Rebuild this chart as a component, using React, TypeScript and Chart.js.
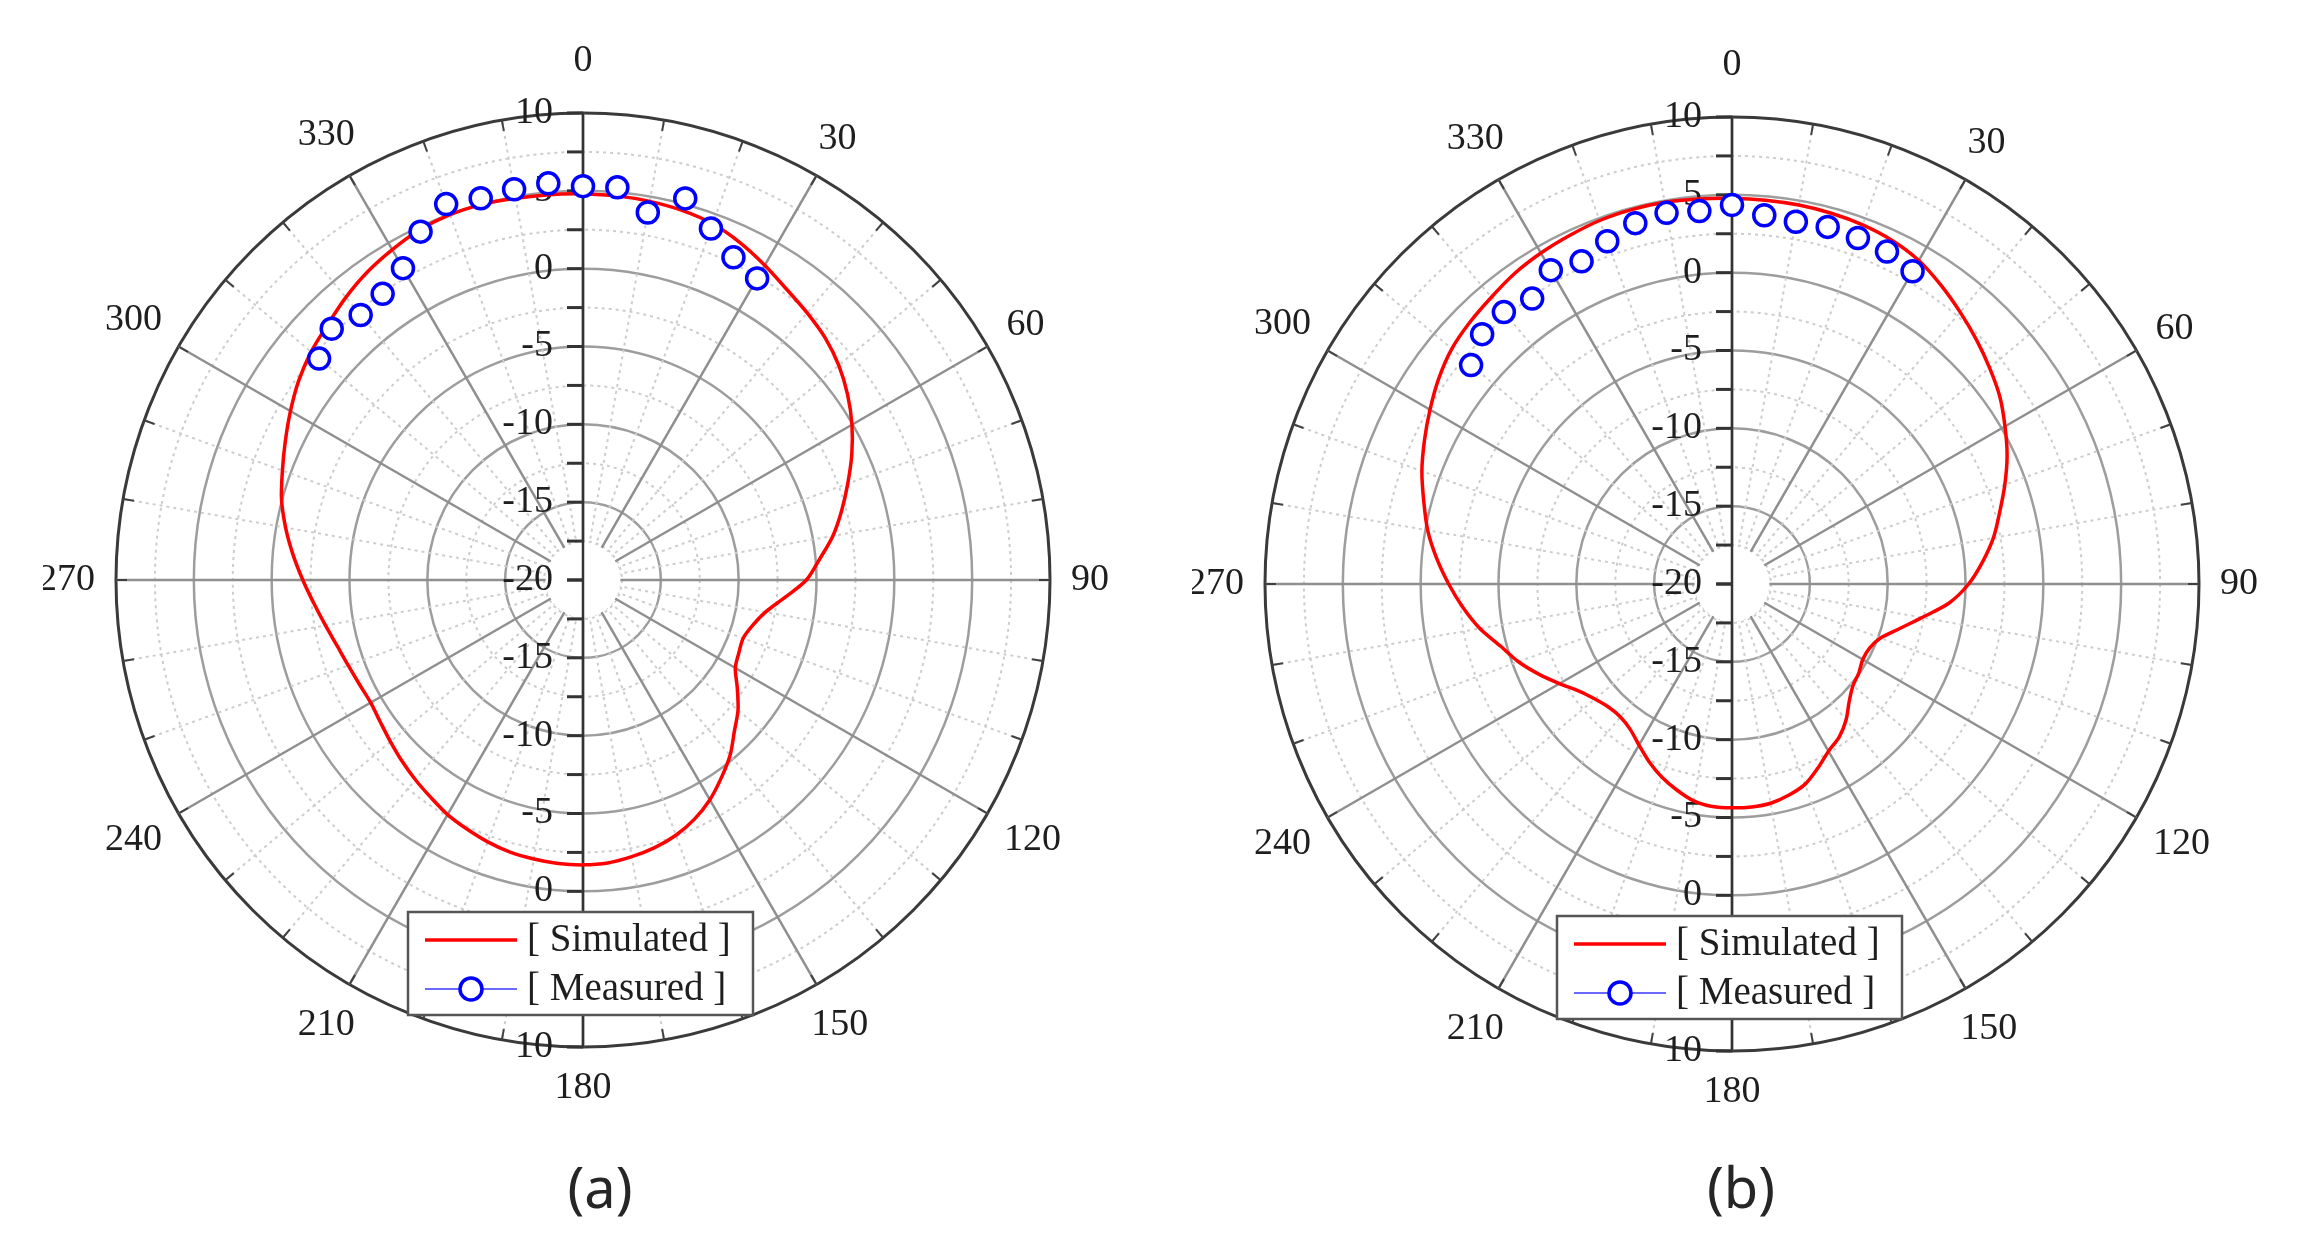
import React, { useEffect, useRef } from 'react';
import { Chart, registerables } from 'chart.js';

Chart.register(...registerables);

// Angular categories (degrees, clockwise from top)
const angles = [
  0, 5, 10, 15, 20, 25, 30, 35, 40, 45, 50, 55, 60, 65, 70, 75, 80, 85,
  90, 95, 100, 105, 110, 115, 120, 125, 130, 135, 140, 145, 150, 155, 160, 165, 170, 175,
  180, 185, 190, 195, 200, 205, 210, 215, 220, 225, 230, 235, 240, 245, 250, 255, 260, 265,
  270, 275, 280, 285, 290, 295, 300, 305, 310, 315, 320, 325, 330, 335, 340, 345, 350, 355,
];

// Radial tick labels (dB)
const radialTickLabels = [10, 5, 0, -5, -10, -15, -20];

// (a) simulated gain, one value per angle above
const simulatedA = [
  4.8, 4.77, 4.7, 4.58, 4.35, 3.9, 3.35, 2.8, 2.4, 2.0, 1.45, 0.75, -0.05, -0.95, -1.9, -2.8, -3.7, -4.75,
  -5.65, -7.0, -8.1, -8.72, -9.05, -8.95, -8.7, -7.9, -7.0, -6.25, -5.3, -4.5, -3.7, -3.05, -2.55, -2.2, -1.95, -1.75,
  -1.7, -1.72, -1.8, -1.9, -2.1, -2.35, -2.6, -2.95, -3.25, -3.55, -3.85, -4.1, -4.25, -4.15, -3.95, -3.65, -3.2, -2.65,
  -2.0, -1.3, -0.6, 0.05, 0.55, 1.1, 1.7, 2.3, 2.8, 3.2, 3.7, 4.15, 4.5, 4.82, 4.97, 4.98, 4.9, 4.85,
];

// (b) simulated gain
const simulatedB = [
  4.78, 4.75, 4.72, 4.66, 4.55, 4.35, 4.0, 3.42, 2.8, 2.2, 1.6, 1.0, 0.25, -0.5, -1.35, -2.2, -2.95, -3.85,
  -4.8, -6.0, -7.6, -8.88, -9.85, -10.25, -10.3, -10.05, -9.85, -9.35, -8.6, -8.0, -7.6, -6.95, -6.3, -5.95, -5.7, -5.62,
  -5.62, -5.65, -5.85, -6.3, -6.8, -7.4, -8.05, -8.6, -8.85, -8.8, -8.5, -8.0, -7.2, -6.3, -5.4, -4.6, -3.55, -2.65,
  -1.8, -0.95, -0.15, 0.5, 1.2, 1.8, 2.4, 3.0, 3.5, 3.8, 4.05, 4.35, 4.55, 4.7, 4.85, 4.9, 4.9, 4.83,
];

// Measured angles (deg) and values
const measuredAngles = [310, 315, 320, 325, 330, 335, 340, 345, 350, 355, 0, 5, 10, 15, 20, 25, 30];
const measuredA = [2.13, 2.83, 2.22, 2.44, 3.13, 4.69, 5.7, 5.39, 5.49, 5.58, 5.3, 5.32, 3.97, 5.38, 4.03, 2.87, 2.37];
const measuredB = [1.88, 2.7, 2.8, 2.38, 3.28, 2.87, 3.43, 4.0, 4.21, 4.05, 4.35, 3.78, 3.63, 3.75, 3.65, 3.56, 3.2];

const seriesNames = ['[ Simulated ]', '[ Measured ]'];
const captions = ['(a)', '(b)'];

const SERIF = '"Liberation Serif", "Times New Roman", Times, serif';
const TEXT = '#1e1e1e';

function alignMeasured(values: number[]): (number | null)[] {
  return angles.map((a) => {
    const k = measuredAngles.indexOf(a);
    return k >= 0 ? values[k] : null;
  });
}

const isMajor = (v: number) => Math.abs(v % 5) < 1e-6;

const decorPlugin = {
  id: 'polarDecor',
  beforeDatasetsDraw(chart: any) {
    const r = chart.scales.r;
    const ctx: CanvasRenderingContext2D = chart.ctx;
    const cx = r.xCenter;
    const cy = r.yCenter;
    const labels = chart.data.labels;
    const n = labels.length;
    const half = n / 2;
    const R = r.getDistanceFromCenterForValue(r.max);
    ctx.save();
    // blank hub in the middle
    ctx.fillStyle = '#ffffff';
    ctx.beginPath();
    ctx.arc(cx, cy, r.getDistanceFromCenterForValue(-17.5) - 1.5, 0, Math.PI * 2);
    ctx.fill();
    // small ticks on outer ring
    ctx.strokeStyle = '#404040';
    ctx.lineWidth = 2;
    ctx.setLineDash([]);
    for (let i = 0; i < n; i += 2) {
      const a = r.getIndexAngle(i) - Math.PI / 2;
      ctx.beginPath();
      ctx.moveTo(cx + Math.cos(a) * R, cy + Math.sin(a) * R);
      ctx.lineTo(cx + Math.cos(a) * (R - 11), cy + Math.sin(a) * (R - 11));
      ctx.stroke();
    }
    // angle labels every 30 degrees, centred outside the ring
    ctx.fillStyle = TEXT;
    ctx.font = `38px ${SERIF}`;
    ctx.textAlign = 'center';
    ctx.textBaseline = 'middle';
    for (let i = 0; i < n; i += 6) {
      const txt = String(labels[i]);
      const a = r.getIndexAngle(i);
      const sx = Math.sin(a);
      const sy = -Math.cos(a);
      const hw = ctx.measureText(txt).width / 2;
      const hh = 13;
      const gap = i === 0 ? 39 : i === half ? 28 : 21;
      const d = R + gap + Math.abs(sx) * hw + Math.abs(sy) * hh;
      ctx.fillText(txt, cx + sx * d, cy + sy * d);
    }
    // vertical axis 0-180
    const top = r.getPointPositionForValue(0, r.max);
    const bot = r.getPointPositionForValue(half, r.max);
    ctx.strokeStyle = '#333333';
    ctx.lineWidth = 2.5;
    ctx.beginPath();
    ctx.moveTo(top.x, top.y);
    ctx.lineTo(bot.x, bot.y);
    ctx.stroke();
    // tick marks
    ctx.lineWidth = 3;
    r.ticks.forEach((t: any) => {
      [0, half].forEach((idx) => {
        const p = r.getPointPositionForValue(idx, t.value);
        ctx.beginPath();
        ctx.moveTo(p.x - 16, p.y);
        ctx.lineTo(p.x, p.y);
        ctx.stroke();
      });
    });
    // tick labels
    ctx.textAlign = 'right';
    radialTickLabels.forEach((v) => {
      const p = r.getPointPositionForValue(0, v);
      ctx.fillText(String(v), p.x - 30, p.y);
      if (v !== r.min) {
        const q = r.getPointPositionForValue(half, v);
        ctx.fillText(String(v), q.x - 30, q.y);
      }
    });
    ctx.restore();
  },
  afterDraw(chart: any) {
    const r = chart.scales.r;
    const ctx: CanvasRenderingContext2D = chart.ctx;
    const cx = r.xCenter;
    const cy = r.yCenter;
    const ds = chart.data.datasets;
    const sim = ds.find((d: any) => d.label === seriesNames[0]);
    const meas = ds.find((d: any) => d.label === seriesNames[1]);
    const x0 = cx - 175;
    const y0 = cy + 332;
    const w = 345;
    const h = 103;
    ctx.save();
    ctx.setLineDash([]);
    ctx.fillStyle = '#ffffff';
    ctx.fillRect(x0, y0, w, h);
    ctx.strokeStyle = '#555555';
    ctx.lineWidth = 2.5;
    ctx.strokeRect(x0, y0, w, h);
    // row 1
    ctx.strokeStyle = sim.borderColor;
    ctx.lineWidth = sim.borderWidth;
    ctx.beginPath();
    ctx.moveTo(x0 + 17, y0 + 28);
    ctx.lineTo(x0 + 109, y0 + 28);
    ctx.stroke();
    // row 2
    ctx.strokeStyle = '#6a6aff';
    ctx.lineWidth = 2;
    ctx.beginPath();
    ctx.moveTo(x0 + 17, y0 + 77);
    ctx.lineTo(x0 + 109, y0 + 77);
    ctx.stroke();
    ctx.fillStyle = '#ffffff';
    ctx.strokeStyle = meas.pointBorderColor;
    ctx.lineWidth = meas.pointBorderWidth;
    ctx.beginPath();
    ctx.arc(x0 + 63, y0 + 77, 11, 0, Math.PI * 2);
    ctx.fill();
    ctx.stroke();
    // texts
    ctx.fillStyle = TEXT;
    ctx.font = `39px ${SERIF}`;
    ctx.textAlign = 'left';
    ctx.textBaseline = 'middle';
    ctx.fillText(sim.label, x0 + 119, y0 + 29);
    ctx.fillText(meas.label, x0 + 119, y0 + 78);
    ctx.restore();
  },
};

function PolarPanel({ sim, meas, left, top }: { sim: number[]; meas: number[]; left: number; top: number }) {
  const ref = useRef<HTMLCanvasElement>(null);
  useEffect(() => {
    const chart = new Chart(ref.current as HTMLCanvasElement, {
      type: 'radar',
      data: {
        labels: angles,
        datasets: [
          {
            label: seriesNames[1],
            data: alignMeasured(meas),
            showLine: false,
            pointRadius: 10.5,
            pointBorderWidth: 3.5,
            pointBorderColor: '#0000ff',
            pointBackgroundColor: '#ffffff',
            borderColor: '#0000ff',
            backgroundColor: 'transparent',
            order: 0,
          } as any,
          {
            label: seriesNames[0],
            data: sim,
            borderColor: '#ff0000',
            borderWidth: 3.5,
            pointRadius: 0,
            fill: false,
            tension: 0.3,
            backgroundColor: 'transparent',
            order: 1,
          } as any,
        ],
      },
      options: {
        responsive: false,
        maintainAspectRatio: false,
        animation: false,
        events: [],
        layout: { padding: 73 },
        plugins: { legend: { display: false }, tooltip: { enabled: false } },
        scales: {
          r: {
            min: -20,
            max: 10,
            startAngle: 0,
            ticks: { display: false, stepSize: 2.5 },
            grid: {
              circular: true,
              color: (c: any) => {
                const v = c.tick ? c.tick.value : 0;
                if (v >= 10) return '#3a3a3a';
                return isMajor(v) ? '#9d9d9d' : '#cdcdcd';
              },
              lineWidth: (c: any) => {
                const v = c.tick ? c.tick.value : -20;
                if (v <= -20) return 0;
                if (v >= 10) return 3;
                return isMajor(v) ? 2.5 : 2;
              },
            },
            border: {
              dash: (c: any) => {
                const v = c.tick ? c.tick.value : 0;
                return isMajor(v) ? [] : [3, 4];
              },
            },
            angleLines: {
              display: true,
              color: (c: any) => (c.index % 6 === 0 ? '#8f8f8f' : c.index % 2 === 0 ? '#cdcdcd' : 'rgba(0,0,0,0)'),
              lineWidth: (c: any) => (c.index % 6 === 0 ? 2.5 : c.index % 2 === 0 ? 2 : 0),
              borderDash: (c: any) => (c.index % 6 === 0 ? [] : [3, 4]),
            },
            pointLabels: { display: false },
          } as any,
        },
      } as any,
      plugins: [decorPlugin as any],
    });
    return () => chart.destroy();
  }, [sim, meas]);
  return (
    <canvas
      ref={ref}
      width={1080}
      height={1080}
      style={{ position: 'absolute', left, top, width: 1080, height: 1080, display: 'block' }}
    />
  );
}

export default function App() {
  const capStyle = (cx: number): React.CSSProperties => ({
    position: 'absolute',
    left: cx - 100,
    width: 200,
    top: 1158,
    textAlign: 'center',
    fontFamily: '"Noto Sans", "Open Sans", sans-serif',
    fontSize: 56,
    lineHeight: '56px',
    color: '#262626',
  });
  return (
    <div style={{ position: 'absolute', left: 0, top: 0, width: 2302, height: 1250, background: '#ffffff', overflow: 'hidden' }}>
      <PolarPanel sim={simulatedA} meas={measuredA} left={43} top={40} />
      <PolarPanel sim={simulatedB} meas={measuredB} left={1192} top={44} />
      <div style={capStyle(600)}>{captions[0]}</div>
      <div style={capStyle(1741)}>{captions[1]}</div>
    </div>
  );
}
